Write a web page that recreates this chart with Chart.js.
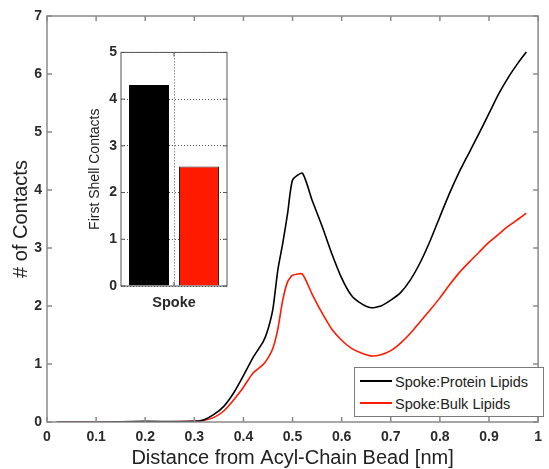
<!DOCTYPE html>
<html>
<head>
<meta charset="utf-8">
<script src="https://cdn.jsdelivr.net/npm/chart.js@4.4.0/dist/chart.umd.min.js"></script>
<style>
  html, body { margin: 0; padding: 0; background: #fff; }
  #wrap { position: relative; width: 549px; height: 469px; }
  #main { position: absolute; left: 0; top: 0; }
  #inset { position: absolute; left: 80px; top: 40px; }
  #legend {
    position: absolute; left: 354px; top: 367px; width: 190px; height: 50px;
    border: 1px solid #7a7a7a; background: #fff; box-sizing: border-box;
    font-family: "Liberation Sans", Arial, sans-serif; font-size: 14.5px; color: #222;
    padding-top: 3px;
  }
  #legend .row { display: flex; align-items: center; height: 22px; }
  #legend .swatch { width: 32px; height: 0; margin-left: 5px; margin-right: 3px; margin-top: -3px; }
</style>
</head>
<body>
<div id="wrap">
  <canvas id="main" width="549" height="469"></canvas>
  <canvas id="inset" width="160" height="280"></canvas>
  <div id="legend"></div>
</div>
<script>
// distance from acyl-chain bead [nm]
const distance = [0.02, 0.1, 0.2, 0.3, 0.32, 0.34, 0.36, 0.38, 0.40, 0.42, 0.44, 0.45, 0.46, 0.47, 0.48, 0.49, 0.50,
  0.52, 0.54, 0.56, 0.58, 0.60, 0.62, 0.64, 0.66, 0.68, 0.70, 0.72, 0.74, 0.76, 0.78, 0.80, 0.82, 0.84, 0.86,
  0.88, 0.90, 0.92, 0.94, 0.96, 0.976];
const proteinLipids = [0, 0, 0.01, 0.01, 0.04, 0.13, 0.27, 0.5, 0.8, 1.12, 1.38, 1.6, 1.95, 2.62, 3.08, 3.6, 4.17,
  4.29, 3.82, 3.38, 2.9, 2.48, 2.18, 2.04, 1.97, 2.0, 2.1, 2.23, 2.45, 2.75, 3.12, 3.54, 3.95, 4.32, 4.65,
  4.98, 5.32, 5.66, 5.95, 6.2, 6.38];
const bulkLipids = [0, 0, 0, 0.01, 0.03, 0.08, 0.19, 0.38, 0.6, 0.85, 0.99, 1.1, 1.27, 1.6, 2.1, 2.42, 2.53,
  2.55, 2.2, 1.88, 1.6, 1.41, 1.27, 1.19, 1.14, 1.16, 1.23, 1.36, 1.53, 1.73, 1.93, 2.14, 2.37, 2.58, 2.76,
  2.93, 3.1, 3.24, 3.38, 3.5, 3.6];
const seriesNames = ["Spoke:Protein Lipids", "Spoke:Bulk Lipids"];

const xTicks = [0, 0.1, 0.2, 0.3, 0.4, 0.5, 0.6, 0.7, 0.8, 0.9, 1];
const yTicks = [0, 1, 2, 3, 4, 5, 6, 7];

// inset: first shell contacts
const insetCategories = ["Spoke"];
const firstShellProtein = [4.3];
const firstShellBulk = [2.56];
const insetTicks = [0, 1, 2, 3, 4, 5];

const FONT = '"Liberation Sans", Arial, sans-serif';
const tickFont = { family: FONT, size: 14, weight: 'bold' };

// box around the axes with inward tick marks (MATLAB style)
const boxPlugin = {
  id: 'box',
  afterDraw(chart, args, opts) {
    const { ctx, chartArea: a, scales } = chart;
    ctx.save();
    ctx.strokeStyle = opts.color;
    ctx.lineWidth = opts.width;
    ctx.strokeRect(a.left, a.top, a.right - a.left, a.bottom - a.top);
    const len = opts.tick;
    ctx.beginPath();
    scales.x.ticks.forEach(t => {
      const px = scales.x.getPixelForValue(t.value);
      ctx.moveTo(px, a.bottom); ctx.lineTo(px, a.bottom - len);
      ctx.moveTo(px, a.top); ctx.lineTo(px, a.top + len);
    });
    scales.y.ticks.forEach(t => {
      const py = scales.y.getPixelForValue(t.value);
      ctx.moveTo(a.left, py); ctx.lineTo(a.left + len, py);
      ctx.moveTo(a.right, py); ctx.lineTo(a.right - len, py);
    });
    ctx.stroke();
    ctx.restore();
  }
};

const mainChart = new Chart(document.getElementById('main'), {
  type: 'line',
  data: {
    datasets: [
      {
        label: seriesNames[0],
        data: distance.map((d, i) => ({ x: d, y: proteinLipids[i] })),
        borderColor: '#000000',
        borderWidth: 1.6,
        pointRadius: 0,
        tension: 0.2
      },
      {
        label: seriesNames[1],
        data: distance.map((d, i) => ({ x: d, y: bulkLipids[i] })),
        borderColor: '#ff1a00',
        borderWidth: 1.6,
        pointRadius: 0,
        tension: 0.2
      }
    ]
  },
  options: {
    responsive: false,
    animation: false,
    devicePixelRatio: 1,
    layout: { padding: { top: 16, right: 3.5, left: 0, bottom: 0 } },
    plugins: {
      legend: { display: false },
      tooltip: { enabled: false },
      box: { color: '#8a8a8a', width: 1.5, tick: 5 }
    },
    scales: {
      x: {
        type: 'linear',
        min: 0, max: 1,
        afterBuildTicks: s => { s.ticks = xTicks.map(v => ({ value: v })); },
        afterFit: s => { s.height = 47; },
        grid: { display: false, drawTicks: false },
        border: { display: false },
        ticks: { font: tickFont, color: '#2a2a2a', padding: 7, maxRotation: 0,
          callback: v => String(Math.round(v * 10) / 10) },
        title: { display: true, text: 'Distance from Acyl-Chain Bead [nm]', color: '#222',
          font: { family: FONT, size: 20, lineHeight: 1 }, padding: { top: 0, bottom: 1 } }
      },
      y: {
        min: 0, max: 7,
        afterBuildTicks: s => { s.ticks = yTicks.map(v => ({ value: v })); },
        afterFit: s => { s.width = 47; },
        grid: { display: false, drawTicks: false },
        border: { display: false },
        ticks: { font: tickFont, color: '#2a2a2a', padding: 5 },
        title: { display: true, text: '# of Contacts', color: '#222',
          font: { family: FONT, size: 20, lineHeight: 1 }, padding: { top: 11, bottom: 0 } }
      }
    }
  },
  plugins: [boxPlugin]
});

// legend built from the datasets
const legendEl = document.getElementById('legend');
mainChart.data.datasets.forEach(ds => {
  const row = document.createElement('div');
  row.className = 'row';
  const sw = document.createElement('span');
  sw.className = 'swatch';
  sw.style.borderTop = '2px solid ' + ds.borderColor;
  const tx = document.createElement('span');
  tx.textContent = ds.label;
  row.appendChild(sw);
  row.appendChild(tx);
  legendEl.appendChild(row);
});

const dotted = { color: '#555', lineWidth: 1 };

new Chart(document.getElementById('inset'), {
  type: 'bar',
  data: {
    labels: insetCategories,
    datasets: [
      { label: seriesNames[0], data: firstShellProtein, backgroundColor: '#000000', borderColor: '#000', borderWidth: 1 },
      { label: seriesNames[1], data: firstShellBulk, backgroundColor: '#ff1a00', borderColor: '#222', borderWidth: 1 }
    ]
  },
  options: {
    responsive: false,
    animation: false,
    devicePixelRatio: 1,
    categoryPercentage: 0.943,
    barPercentage: 0.8,
    layout: { padding: { top: 11, right: 13, left: 0, bottom: 0 } },
    plugins: {
      legend: { display: false },
      tooltip: { enabled: false },
      box: { color: '#555', width: 1, tick: 4 }
    },
    scales: {
      x: {
        afterFit: s => { s.height = 34; },
        grid: { offset: false, drawTicks: false, color: dotted.color, lineWidth: dotted.lineWidth },
        border: { display: false, dash: [1, 2] },
        ticks: { font: { family: FONT, size: 14.5, weight: 'bold' }, color: '#2a2a2a', padding: 8 }
      },
      y: {
        min: 0, max: 5,
        afterBuildTicks: s => { s.ticks = insetTicks.map(v => ({ value: v })); },
        afterFit: s => { s.width = 41; },
        grid: { drawTicks: false, color: dotted.color, lineWidth: dotted.lineWidth },
        border: { display: false, dash: [1, 2] },
        ticks: { font: tickFont, color: '#2a2a2a', padding: 4 },
        title: { display: true, text: 'First Shell Contacts', color: '#222',
          font: { family: FONT, size: 14, lineHeight: 1 }, padding: { top: 8, bottom: 0 } }
      }
    }
  },
  plugins: [boxPlugin]
});
</script>
</body>
</html>
